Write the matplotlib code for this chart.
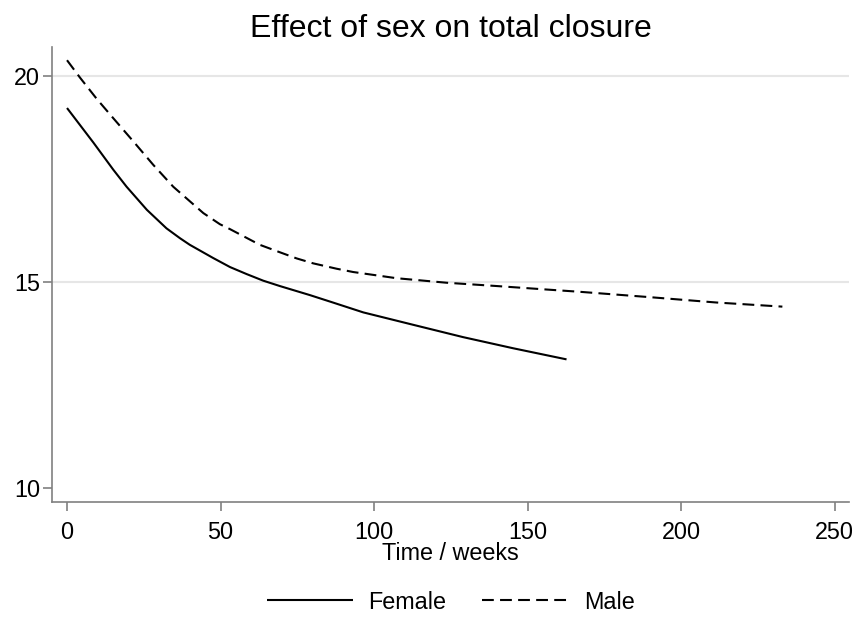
import numpy as np
import matplotlib
matplotlib.use("Agg")
import matplotlib.pyplot as plt

# ------------------------------------------------------
# DADOS
# ------------------------------------------------------
female_t = [0, 8.6, 15.1, 19.4, 26, 32.4, 36.8, 40, 47.6, 53.1, 58.5, 63.9,
            69.3, 79.1, 86.6, 96.5, 112.7, 129, 145.3, 162.7]
female_y = [19.22, 18.38, 17.72, 17.31, 16.75, 16.30, 16.06, 15.90, 15.58, 15.36,
            15.19, 15.03, 14.90, 14.68, 14.50, 14.26, 13.96, 13.66, 13.39, 13.12]

male_t = [0, 4.2, 9.7, 15.1, 21.6, 28.1, 34.6, 39.5, 44.4, 49.8, 53.1, 62.8,
          69.3, 74.8, 80.2, 87.8, 93.2, 107.3, 123.6, 139.9, 157.2, 167,
          189.8, 211.5, 233]
male_y = [20.38, 19.96, 19.44, 18.97, 18.41, 17.84, 17.31, 16.99, 16.67, 16.40,
          16.28, 15.90, 15.72, 15.57, 15.45, 15.32, 15.24, 15.09, 14.98, 14.90,
          14.81, 14.76, 14.63, 14.50, 14.40]

x_ticks = [0, 50, 100, 150, 200, 250]
y_ticks = [10, 15, 20]

TITLE = "Effect of sex on total closure"
XLABEL = "Time / weeks"
LABELS = ["Female", "Male"]

# ------------------------------------------------------
# ESTILO
# ------------------------------------------------------
plt.rcParams["font.family"] = ["Liberation Sans", "DejaVu Sans"]
plt.rcParams["lines.scale_dashes"] = False
SPINE = "#808080"
GRID = "#e6e6e6"
FS = 16.8

fig = plt.figure(figsize=(8.59, 6.22), dpi=100)
ax = fig.add_axes([0.0605, 0.193, 0.9275, 0.7314])

ax.plot(female_t, female_y, color="black", lw=1.5, label=LABELS[0],
        solid_capstyle="butt", solid_joinstyle="round")
ax.plot(male_t, male_y, color="black", lw=1.5, label=LABELS[1],
        dashes=(8.5, 4.5), dash_capstyle="butt")

ax.set_xlim(-4.9, 254.6)
ax.set_ylim(9.66, 20.7)
ax.set_xticks(x_ticks)
ax.set_yticks(y_ticks)

ax.yaxis.grid(True, color=GRID, lw=1.5)
ax.yaxis.get_gridlines()[0].set_visible(False)
ax.set_axisbelow(True)

for s in ["top", "right"]:
    ax.spines[s].set_visible(False)
for s in ["left", "bottom"]:
    ax.spines[s].set_color(SPINE)
    ax.spines[s].set_linewidth(1.2)

ax.tick_params(axis="both", colors=SPINE, labelcolor="black", labelsize=FS,
               length=6.5, width=1.2)
ax.tick_params(axis="x", pad=7)
ax.tick_params(axis="y", pad=2)

ax.set_xlabel(XLABEL, fontsize=FS, labelpad=-1)
fig.text(0.525, 0.953, TITLE, ha="center", va="center", fontsize=23)

fig.legend(loc="center", bbox_to_anchor=(0.5245, 0.032), ncol=2, frameon=False,
           fontsize=FS, handlelength=3.7, columnspacing=1.55, handletextpad=0.65)

fig.savefig("out.png", dpi=100)
